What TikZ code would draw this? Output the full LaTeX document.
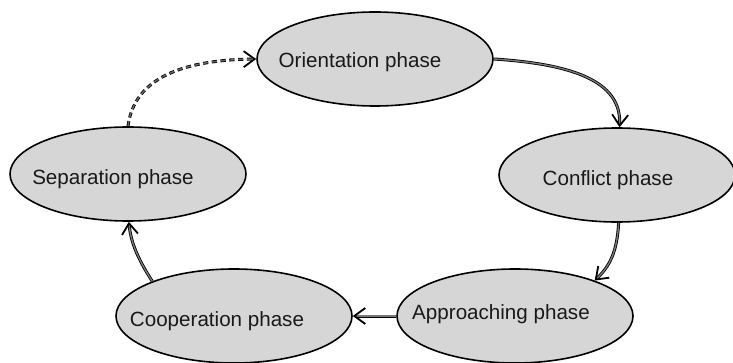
\documentclass[tikz,border=0pt]{standalone}
\usepackage{fontspec}
\setmainfont{Liberation Sans}
\usetikzlibrary{shapes.geometric,arrows.meta}
\definecolor{phasefill}{RGB}{214,214,214}
\definecolor{linkfill}{RGB}{120,120,120}
\tikzset{
  phase/.style={ellipse, draw=black, line width=0.8pt, fill=phasefill,
    minimum width=118pt, minimum height=47pt, inner sep=0pt},
  phasetext/.style={anchor=base, inner sep=0pt, font=\fontsize{10.3pt}{12pt}\selectfont, text=black!90},
  link/.style={draw=black, line width=0.4pt, double=linkfill, double distance=0.7pt,
    -{Straight Barb[length=5.5pt,width=8pt,line width=0.9pt]}},
  dlink/.style={link, double=black!60, dash pattern=on 2.6pt off 1.8pt}
}
\begin{document}
\begin{tikzpicture}[x=0.5pt, y=-0.5pt]
  \useasboundingbox (0,0) rectangle (733,363);

  % the five phases
  \node[phase] (o) at (375,59)  {};
  \node[phase] (c) at (617,175) {};
  \node[phase] (a) at (515,316) {};
  \node[phase] (k) at (234,316) {};
  \node[phase] (s) at (128,174) {};

  % phase names, set slightly left of centre
  \node[phasetext] (ot) at (360,68)  {Orientation phase};
  \node[phasetext] (ct) at (608,186) {Conflict phase};
  \node[phasetext] (at) at (501,319) {Approaching phase};
  \node[phasetext] (kt) at (217,326) {Cooperation phase};
  \node[phasetext] (st) at (113,185) {Separation phase};

  % transitions around the cycle
  \draw[link] (o.east) .. controls (570,64) and (622,80) .. (c.87);
  \draw[link] (c.-88) .. controls (617,252) and (610,266) .. (a.24);
  \draw[link] (a.west) -- (k.east);
  \draw[link] (k.157) .. controls (140,262) and (131,245) .. (s.-89);
  \draw[dlink] (s.90) .. controls (133,88) and (165,60) .. (o.west);
\end{tikzpicture}
\end{document}
